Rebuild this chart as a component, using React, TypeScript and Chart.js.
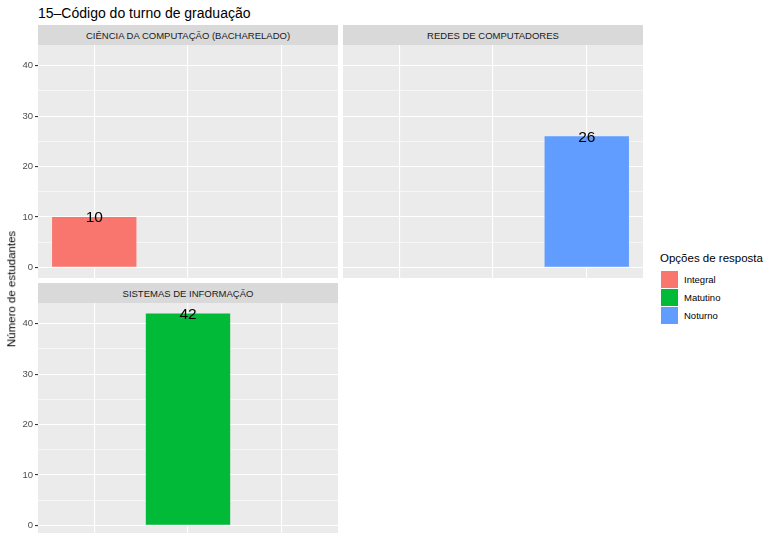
import React, { useEffect, useRef } from "react";
import { Chart, registerables } from "chart.js";

Chart.register(...registerables);

const FONT = '"Liberation Sans", Arial, Helvetica, sans-serif';

const chartTitle = "15–Código do turno de graduação";
const yAxisTitle = "Número de estudantes";
const legendTitle = "Opções de resposta";

const answerOptions = ["Integral", "Matutino", "Noturno"];
const answerColors = ["#F8766D", "#00BA38", "#619CFF"];

const facetNames = [
  "CIÊNCIA DA COMPUTAÇÃO (BACHARELADO)",
  "REDES DE COMPUTADORES",
  "SISTEMAS DE INFORMAÇÃO",
];
const cienciaValues: (number | null)[] = [10, null, null];
const redesValues: (number | null)[] = [null, null, 26];
const sistemasValues: (number | null)[] = [null, 42, null];

const yTickValues = [0, 5, 10, 15, 20, 25, 30, 35, 40];
const yMin = -2.1;
const yMax = 44.1;

type PanelProps = {
  values: (number | null)[];
  showAxis: boolean;
  left: number;
  top: number;
  width: number;
  height: number;
};

const bgPlugin = {
  id: "panelBg",
  beforeDraw(chart: any) {
    const { ctx, chartArea } = chart;
    ctx.save();
    ctx.fillStyle = "#EBEBEB";
    ctx.fillRect(chartArea.left, chartArea.top, chartArea.right - chartArea.left, chartArea.bottom - chartArea.top);
    ctx.restore();
  },
};

const labelPlugin = {
  id: "barLabels",
  afterDatasetsDraw(chart: any) {
    const { ctx } = chart;
    const xs = chart.scales.x;
    const ys = chart.scales.y;
    const ds = chart.data.datasets[0];
    ctx.save();
    ctx.font = `15.5px ${FONT}`;
    ctx.fillStyle = "#000000";
    ctx.textAlign = "center";
    ctx.textBaseline = "middle";
    ds.data.forEach((d: any) => {
      if (d.y === null || d.y === undefined) return;
      ctx.fillText(String(d.y), xs.getPixelForValue(d.x), ys.getPixelForValue(d.y) + 1);
    });
    ctx.restore();
  },
};

function Panel({ values, showAxis, left, top, width, height }: PanelProps) {
  const ref = useRef<HTMLCanvasElement>(null);
  useEffect(() => {
    if (!ref.current) return;
    const chart = new Chart(ref.current, {
      type: "bar",
      data: {
        datasets: [
          {
            data: values.map((v, i) => ({ x: i + 1, y: v })) as any,
            backgroundColor: answerColors,
            borderWidth: 0,
            inflateAmount: 0,
            barPercentage: 0.9,
            categoryPercentage: 1,
          },
        ],
      },
      options: {
        animation: false,
        responsive: false,
        maintainAspectRatio: false,
        devicePixelRatio: 1,
        layout: { padding: 0 },
        plugins: { legend: { display: false }, tooltip: { enabled: false } },
        scales: {
          x: {
            type: "linear",
            min: 0.4,
            max: 3.6,
            offset: false,
            afterBuildTicks(scale: any) {
              scale.ticks = [{ value: 1 }, { value: 2 }, { value: 3 }];
            },
            afterFit(scale: any) {
              scale.height = 0;
              scale.paddingLeft = 0;
              scale.paddingRight = 0;
              scale.paddingTop = 0;
              scale.paddingBottom = 0;
            },
            ticks: { display: false },
            grid: { color: "#FFFFFF", lineWidth: 1.1, drawTicks: false, offset: false },
            border: { display: false },
          },
          y: {
            type: "linear",
            min: yMin,
            max: yMax,
            afterBuildTicks(scale: any) {
              scale.ticks = yTickValues.map((v) => ({ value: v }));
            },
            afterFit(scale: any) {
              scale.width = showAxis ? 38 : 0;
              scale.paddingLeft = 0;
              scale.paddingRight = 0;
              scale.paddingTop = 0;
              scale.paddingBottom = 0;
            },
            ticks: {
              display: showAxis,
              padding: 2,
              color: "#4D4D4D",
              font: { family: FONT, size: 9.5 },
              callback: (v: any) => (Number(v) % 10 === 0 ? String(v) : ""),
            },
            grid: {
              color: "#FFFFFF",
              lineWidth: (c: any) => (c.tick && c.tick.value % 10 === 0 ? 1.1 : 0.55),
              drawTicks: showAxis,
              tickLength: 3,
              tickWidth: 1.1,
              tickColor: (c: any) => (c.tick && c.tick.value % 10 === 0 ? "#333333" : "rgba(0,0,0,0)"),
            },
            border: { display: false },
          },
        },
      },
      plugins: [bgPlugin, labelPlugin],
    });
    return () => chart.destroy();
  }, []);
  return (
    <canvas
      ref={ref}
      width={width}
      height={height}
      style={{ position: "absolute", left, top, width, height }}
    />
  );
}

function Strip({ label, left, top }: { label: string; left: number; top: number }) {
  return (
    <div
      style={{
        position: "absolute",
        left,
        top,
        width: 300,
        height: 20,
        background: "#D9D9D9",
        color: "#1A1A1A",
        fontSize: 9.5,
        display: "flex",
        alignItems: "center",
        justifyContent: "center",
        whiteSpace: "nowrap",
      }}
    >
      {label}
    </div>
  );
}

export default function App() {
  return (
    <div
      style={{
        position: "absolute",
        left: 0,
        top: 0,
        width: 769,
        height: 533,
        overflow: "hidden",
        background: "#FFFFFF",
        fontFamily: FONT,
      }}
    >
      <div style={{ position: "absolute", left: 38, top: 6, fontSize: 14, lineHeight: 1, color: "#000", whiteSpace: "nowrap" }}>
        {chartTitle}
      </div>

      <Strip label={facetNames[0]} left={38} top={25} />
      <Strip label={facetNames[1]} left={343} top={25} />
      <Strip label={facetNames[2]} left={38} top={283} />

      <Panel values={cienciaValues} showAxis={true} left={0} top={45} width={338} height={233} />
      <Panel values={redesValues} showAxis={false} left={343} top={45} width={300} height={233} />
      <Panel values={sistemasValues} showAxis={true} left={0} top={303} width={338} height={233} />

      <div
        style={{
          position: "absolute",
          left: 12,
          top: 289,
          transform: "translate(-50%, -50%) rotate(-90deg)",
          fontSize: 11.5,
          lineHeight: 1,
          color: "#000",
          whiteSpace: "nowrap",
        }}
      >
        {yAxisTitle}
      </div>

      <div style={{ position: "absolute", left: 660, top: 253, fontSize: 11.5, lineHeight: 1, color: "#000", whiteSpace: "nowrap" }}>
        {legendTitle}
      </div>
      {answerOptions.map((opt, i) => (
        <React.Fragment key={opt}>
          <div
            style={{
              position: "absolute",
              left: 661,
              top: 271 + i * 18,
              width: 17,
              height: 17,
              background: answerColors[i],
            }}
          />
          <div
            style={{
              position: "absolute",
              left: 684,
              top: 271 + i * 18,
              height: 17,
              display: "flex",
              alignItems: "center",
              fontSize: 9.5,
              color: "#000",
              whiteSpace: "nowrap",
            }}
          >
            {opt}
          </div>
        </React.Fragment>
      ))}
    </div>
  );
}
